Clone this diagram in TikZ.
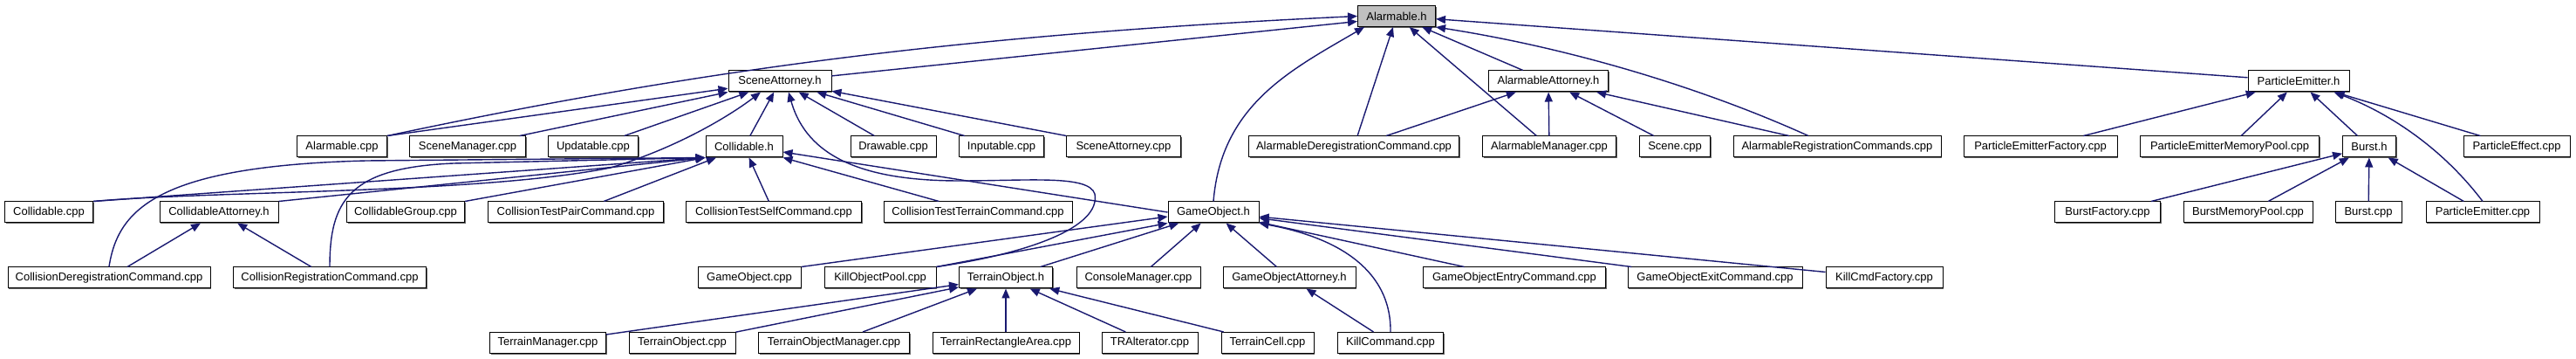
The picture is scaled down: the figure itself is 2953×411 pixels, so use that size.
\documentclass[tikz,border=0pt]{standalone}
\usepackage{fontspec}
\setmainfont{Liberation Sans}
\usetikzlibrary{arrows.meta,shadows}
\definecolor{depnavy}{HTML}{191970}
\tikzset{
  file/.style={draw=black, fill=white, line width=1pt, inner sep=0pt, minimum height=24pt,
    font=\fontsize{13}{15}\selectfont,
    drop shadow={shadow xshift=1.4pt, shadow yshift=-1.4pt, fill=black!60, opacity=1}},
  dep/.style={draw=depnavy, line width=1.4pt, -{Triangle[length=11pt,width=9pt]}}
}
\begin{document}
\begin{tikzpicture}[x=1pt,y=-1pt]
  \useasboundingbox (0,0) rectangle (2953,411);
  \node[file, fill=black!25, minimum width=89] (alarmableH) at (1601,18.5) {Alarmable.h};

  \node[file, minimum width=118] (sceneAttorneyH) at (894,93) {SceneAttorney.h};
  \node[file, minimum width=137] (alarmableAttorneyH) at (1775,93) {AlarmableAttorney.h};
  \node[file, minimum width=116] (particleEmitterH) at (2635,93) {ParticleEmitter.h};

  \node[file, minimum width=103] (alarmableCpp) at (392,168) {Alarmable.cpp};
  \node[file, minimum width=133] (sceneManagerCpp) at (536,168) {SceneManager.cpp};
  \node[file, minimum width=103] (updatableCpp) at (680,168) {Updatable.cpp};
  \node[file, minimum width=88] (collidableH) at (853,168) {Collidable.h};
  \node[file, minimum width=98] (drawableCpp) at (1024,168) {Drawable.cpp};
  \node[file, minimum width=97] (inputableCpp) at (1148,168) {Inputable.cpp};
  \node[file, minimum width=131] (sceneAttorneyCpp) at (1288,168) {SceneAttorney.cpp};
  \node[file, minimum width=241] (alarmableDeregCmdCpp) at (1552,168) {AlarmableDeregistrationCommand.cpp};
  \node[file, minimum width=153] (alarmableManagerCpp) at (1776,168) {AlarmableManager.cpp};
  \node[file, minimum width=81] (sceneCpp) at (1920,168) {Scene.cpp};
  \node[file, minimum width=238] (alarmableRegCmdsCpp) at (2106,168) {AlarmableRegistrationCommands.cpp};
  \node[file, minimum width=176] (particleEmitterFactoryCpp) at (2339,168) {ParticleEmitterFactory.cpp};
  \node[file, minimum width=205] (particleEmitterMemoryPoolCpp) at (2556,168) {ParticleEmitterMemoryPool.cpp};
  \node[file, minimum width=61] (burstH) at (2716,168) {Burst.h};
  \node[file, minimum width=122] (particleEffectCpp) at (2885,168) {ParticleEffect.cpp};

  \node[file, minimum width=101] (collidableCpp) at (56,243) {Collidable.cpp};
  \node[file, minimum width=136] (collidableAttorneyH) at (251,243) {CollidableAttorney.h};
  \node[file, minimum width=135] (collidableGroupCpp) at (465,243) {CollidableGroup.cpp};
  \node[file, minimum width=201] (collisionTestPairCmdCpp) at (660,243) {CollisionTestPairCommand.cpp};
  \node[file, minimum width=201] (collisionTestSelfCmdCpp) at (887,243) {CollisionTestSelfCommand.cpp};
  \node[file, minimum width=216] (collisionTestTerrainCmdCpp) at (1121,243) {CollisionTestTerrainCommand.cpp};
  \node[file, minimum width=104] (gameObjectH) at (1391,243) {GameObject.h};
  \node[file, minimum width=121] (burstFactoryCpp) at (2416,243) {BurstFactory.cpp};
  \node[file, minimum width=148] (burstMemoryPoolCpp) at (2577,243) {BurstMemoryPool.cpp};
  \node[file, minimum width=76] (burstCpp) at (2715,243) {Burst.cpp};
  \node[file, minimum width=130] (particleEmitterCpp) at (2846,243) {ParticleEmitter.cpp};

  \node[file, minimum width=232] (collisionDeregCmdCpp) at (125,318) {CollisionDeregistrationCommand.cpp};
  \node[file, minimum width=221] (collisionRegCmdCpp) at (378,318) {CollisionRegistrationCommand.cpp};
  \node[file, minimum width=118] (gameObjectCpp) at (859,318) {GameObject.cpp};
  \node[file, minimum width=128] (killObjectPoolCpp) at (1009,318) {KillObjectPool.cpp};
  \node[file, minimum width=107] (terrainObjectH) at (1153,318) {TerrainObject.h};
  \node[file, minimum width=142] (consoleManagerCpp) at (1305,318) {ConsoleManager.cpp};
  \node[file, minimum width=152] (gameObjectAttorneyH) at (1478,318) {GameObjectAttorney.h};
  \node[file, minimum width=209] (gameObjectEntryCmdCpp) at (1736,318) {GameObjectEntryCommand.cpp};
  \node[file, minimum width=200] (gameObjectExitCmdCpp) at (1966,318) {GameObjectExitCommand.cpp};
  \node[file, minimum width=134] (killCmdFactoryCpp) at (2160,318) {KillCmdFactory.cpp};

  \node[file, minimum width=133] (terrainManagerCpp) at (628,392.5) {TerrainManager.cpp};
  \node[file, minimum width=122] (terrainObjectCpp) at (782,392.5) {TerrainObject.cpp};
  \node[file, minimum width=173] (terrainObjectManagerCpp) at (956,392.5) {TerrainObjectManager.cpp};
  \node[file, minimum width=168] (terrainRectangleAreaCpp) at (1153,392.5) {TerrainRectangleArea.cpp};
  \node[file, minimum width=110] (trAlteratorCpp) at (1318,392.5) {TRAlterator.cpp};
  \node[file, minimum width=106] (terrainCellCpp) at (1453,392.5) {TerrainCell.cpp};
  \node[file, minimum width=121] (killCommandCpp) at (1594,392.5) {KillCommand.cpp};

  \draw[dep] (alarmableCpp.north east) .. controls (800,80) and (1100,40) .. (alarmableH.west);
  \draw[dep] (sceneAttorneyH) -- ([yshift=-6pt]alarmableH.west);
  \draw[dep] (gameObjectH.north) .. controls (1400,120) and (1480,80) .. ([xshift=8pt]alarmableH.south west);
  \draw[dep] (alarmableDeregCmdCpp) -- (alarmableH);
  \draw[dep] (alarmableManagerCpp) -- (alarmableH);
  \draw[dep] (alarmableAttorneyH) -- (alarmableH);
  \draw[dep] ([xshift=-33pt]alarmableRegCmdsCpp.north) .. controls (1950,100) and (1800,55) .. (alarmableH.south east);
  \draw[dep] (particleEmitterH) -- (alarmableH);

  \draw[dep] (alarmableCpp.north east) -- (sceneAttorneyH);
  \draw[dep] (sceneManagerCpp) -- (sceneAttorneyH);
  \draw[dep] (updatableCpp) -- (sceneAttorneyH);
  \draw[dep] (collidableH) -- (sceneAttorneyH);
  \draw[dep] (drawableCpp) -- (sceneAttorneyH);
  \draw[dep] (inputableCpp) -- (sceneAttorneyH);
  \draw[dep] (sceneAttorneyCpp) -- (sceneAttorneyH);
  \draw[dep] (collidableCpp.north east) .. controls (250,218) and (550,222) .. (700,192)
    .. controls (780,168) and (840,130) .. ([xshift=-22pt]sceneAttorneyH.south);
  \draw[dep] (killObjectPoolCpp.north east) .. controls (1180,290) and (1262,260) .. (1255,222)
    .. controls (1248,200) and (1180,207) .. (1100,207)
    .. controls (990,207) and (925,180) .. ([xshift=10pt]sceneAttorneyH.south);

  \draw[dep] (collidableCpp.north east) -- (collidableH.south west);
  \draw[dep] (collidableAttorneyH.north east) -- (collidableH.south west);
  \draw[dep] (collidableGroupCpp.north east) -- (collidableH.south west);
  \draw[dep] (collisionTestPairCmdCpp) -- (collidableH);
  \draw[dep] (collisionDeregCmdCpp.north) .. controls (135,240) and (180,190) .. (420,184) -- (collidableH.south west);
  \draw[dep] (collisionRegCmdCpp.north) .. controls (378,230) and (400,192) .. (520,187) -- (collidableH.south west);
  \draw[dep] (collisionTestSelfCmdCpp) -- (collidableH);
  \draw[dep] (collisionTestTerrainCmdCpp) -- (collidableH);
  \draw[dep] (gameObjectH.west) -- ([yshift=-6pt]collidableH.east);

  \draw[dep] (collisionDeregCmdCpp) -- (collidableAttorneyH);
  \draw[dep] (collisionRegCmdCpp) -- (collidableAttorneyH);

  \draw[dep] (alarmableDeregCmdCpp) -- (alarmableAttorneyH);
  \draw[dep] (alarmableManagerCpp) -- (alarmableAttorneyH);
  \draw[dep] (sceneCpp) -- (alarmableAttorneyH);
  \draw[dep] (alarmableRegCmdsCpp) -- (alarmableAttorneyH);

  \draw[dep] (gameObjectCpp.north east) -- ([yshift=-5pt]gameObjectH.west);
  \draw[dep] (killObjectPoolCpp.north east) -- (gameObjectH.south west);
  \draw[dep] (terrainObjectH) -- (gameObjectH);
  \draw[dep] (consoleManagerCpp) -- (gameObjectH);
  \draw[dep] (gameObjectAttorneyH) -- (gameObjectH);
  \draw[dep] (killCommandCpp.north) .. controls (1595,320) and (1550,275) .. (gameObjectH.south east);
  \draw[dep] (gameObjectEntryCmdCpp) -- (gameObjectH);
  \draw[dep] (gameObjectExitCmdCpp) -- (gameObjectH);
  \draw[dep] (killCmdFactoryCpp) -- (gameObjectH);

  \draw[dep] (terrainManagerCpp) -- (terrainObjectH);
  \draw[dep] (terrainObjectCpp) -- (terrainObjectH);
  \draw[dep] (terrainObjectManagerCpp) -- (terrainObjectH);
  \draw[dep] (terrainRectangleAreaCpp) -- (terrainObjectH);
  \draw[dep] (trAlteratorCpp) -- (terrainObjectH);
  \draw[dep] (terrainCellCpp) -- (terrainObjectH);
  \draw[dep] (killCommandCpp) -- (gameObjectAttorneyH);

  \draw[dep] (particleEmitterFactoryCpp) -- (particleEmitterH);
  \draw[dep] (particleEmitterMemoryPoolCpp) -- (particleEmitterH);
  \draw[dep] (burstH) -- (particleEmitterH);
  \draw[dep] (particleEffectCpp) -- (particleEmitterH);
  \draw[dep] (particleEmitterCpp.north) .. controls (2800,170) and (2740,130) .. ([xshift=-18pt]particleEmitterH.south east);

  \draw[dep] (burstFactoryCpp) -- (burstH);
  \draw[dep] (burstMemoryPoolCpp) -- (burstH);
  \draw[dep] (burstCpp) -- (burstH);
  \draw[dep] (particleEmitterCpp) -- (burstH);
\end{tikzpicture}
\end{document}
